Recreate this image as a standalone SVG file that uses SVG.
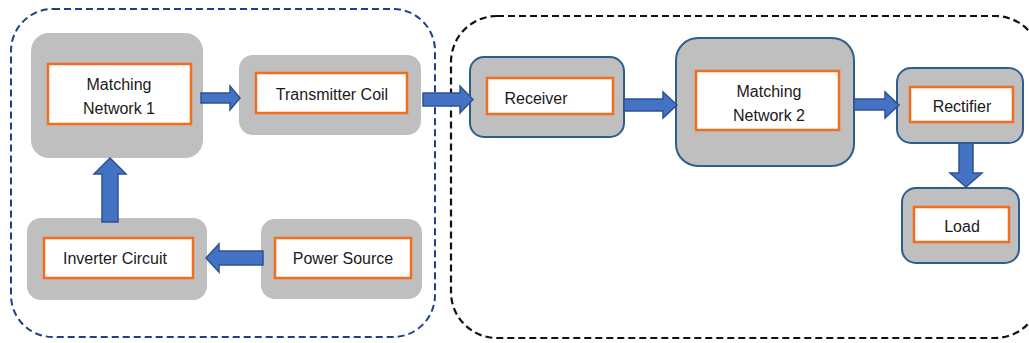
<svg xmlns="http://www.w3.org/2000/svg" width="1029" height="343" viewBox="0 0 1029 343">
<style>
.outer{fill:#bfbfbf;stroke:none}
.outerb{fill:#bfbfbf;stroke:#2e5e8e;stroke-width:2}
.inner{fill:#ffffff;stroke:#f26e1f;stroke-width:2.5}
.t{font-family:"Liberation Sans",Arial,sans-serif;font-size:16px;fill:#1a1a1a;text-anchor:middle;dominant-baseline:central}
.arr{fill:#4472c4;stroke:#2f528f;stroke-width:1.5;stroke-linejoin:miter}
</style>
<rect width="1029" height="343" fill="#ffffff"/>
<g id="containers">
<rect x="11" y="9" width="424" height="328" rx="42" fill="none" stroke="#1f3f8c" stroke-width="2" stroke-dasharray="7,4"/>
<rect x="451" y="16" width="590" height="322" rx="46" fill="none" stroke="#111111" stroke-width="2.2" stroke-dasharray="7,4"/>
</g>
<g id="matching-network-1">
<rect class="outer" x="31" y="33" width="172" height="125" rx="18"/>
<rect class="inner" x="48" y="64" width="143" height="60"/>
<text class="t" x="119" y="84">Matching</text>
<text class="t" x="119" y="108">Network 1</text>
</g>
<g id="transmitter-coil">
<rect class="outer" x="239" y="55" width="182" height="80" rx="14"/>
<rect class="inner" x="256" y="73" width="151" height="40"/>
<text class="t" x="332" y="94">Transmitter Coil</text>
</g>
<g id="inverter-circuit">
<rect class="outer" x="27" y="218" width="180" height="82" rx="14"/>
<rect class="inner" x="44" y="238" width="149" height="40"/>
<text class="t" x="115" y="258">Inverter Circuit</text>
</g>
<g id="power-source">
<rect class="outer" x="261" y="219" width="161" height="80" rx="14"/>
<rect class="inner" x="275" y="238" width="136" height="40"/>
<text class="t" x="343" y="258">Power Source</text>
</g>
<g id="receiver">
<rect class="outerb" x="470" y="57" width="154" height="80" rx="14"/>
<rect class="inner" x="487" y="78" width="126" height="36"/>
<text class="t" x="536" y="98">Receiver</text>
</g>
<g id="matching-network-2">
<rect class="outerb" x="676" y="38" width="178" height="128" rx="22"/>
<rect class="inner" x="696" y="71" width="143" height="59"/>
<text class="t" x="769" y="91">Matching</text>
<text class="t" x="769" y="115">Network 2</text>
</g>
<g id="rectifier">
<rect class="outerb" x="897" y="68" width="126" height="75" rx="14"/>
<rect class="inner" x="910" y="87" width="103" height="35"/>
<text class="t" x="962" y="106">Rectifier</text>
</g>
<g id="load">
<rect class="outerb" x="902" y="188" width="117" height="75" rx="14"/>
<rect class="inner" x="914" y="207" width="95" height="35"/>
<text class="t" x="962" y="226">Load</text>
</g>
<g id="connectors">
<polygon class="arr" points="201,93 230,93 230,86 240,98 230,110 230,103 201,103"/>
<polygon class="arr" points="423,93 460,93 460,86 473,99.5 460,113 460,106 423,106"/>
<polygon class="arr" points="624,99 663,99 663,92 677,105 663,118 663,111 624,111"/>
<polygon class="arr" points="854,99 885,99 885,92 899,105 885,118 885,110 854,110"/>
<polygon class="arr" points="959,143 973,143 973,173 982,173 966,187 950,173 959,173"/>
<polygon class="arr" points="263,251 219,251 219,244 206,258 219,272 219,265 263,265"/>
<polygon class="arr" points="102,222 102,174 94,174 110,158 126,174 118,174 118,222"/>
</g>
</svg>
